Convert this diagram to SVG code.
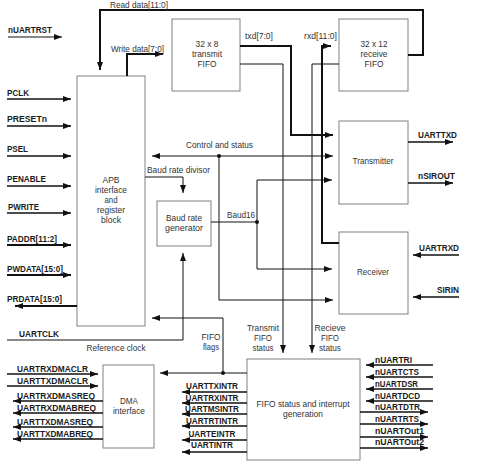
<svg xmlns="http://www.w3.org/2000/svg" width="480" height="463" viewBox="0 0 480 463">
<defs>
<marker id="ah" viewBox="0 0 8 6" refX="8" refY="3" markerWidth="8" markerHeight="6" markerUnits="userSpaceOnUse" orient="auto-start-reverse"><path d="M0,0 L8,3 L0,6 z" fill="#111"/></marker>
</defs>
<style>
.box{fill:#fff;stroke:#808080;stroke-width:1}
.w{fill:none;stroke:#111;stroke-width:1}
.m{fill:none;stroke:#111;stroke-width:1.5}
.b{fill:none;stroke:#111;stroke-width:2}
.a{marker-end:url(#ah)}
.a2{marker-start:url(#ah);marker-end:url(#ah)}
.dot{fill:#111}
.t{font-family:"Liberation Sans",Arial,sans-serif;font-size:9px;fill:#333}
.s{font-family:"Liberation Sans",Arial,sans-serif;font-size:9.5px;font-weight:bold;fill:#1a1a1a}
.c{text-anchor:middle}
</style>
<rect width="480" height="463" fill="#fff"/>

<g id="apb">
<rect class="box" x="77" y="76" width="68" height="250"/>
<text class="t c" x="111" y="183" textLength="17" lengthAdjust="spacingAndGlyphs">APB</text>
<text class="t c" x="111" y="193" textLength="32" lengthAdjust="spacingAndGlyphs">interface</text>
<text class="t c" x="111" y="203" textLength="13" lengthAdjust="spacingAndGlyphs">and</text>
<text class="t c" x="111" y="213" textLength="28" lengthAdjust="spacingAndGlyphs">register</text>
<text class="t c" x="111" y="223" textLength="20" lengthAdjust="spacingAndGlyphs">block</text>
</g>
<g id="txfifo">
<rect class="box" x="172" y="19" width="68" height="72"/>
<text class="t c" x="207" y="47" textLength="23" lengthAdjust="spacingAndGlyphs">32 x 8</text>
<text class="t c" x="207" y="57" textLength="30" lengthAdjust="spacingAndGlyphs">transmit</text>
<text class="t c" x="207" y="67" textLength="19" lengthAdjust="spacingAndGlyphs">FIFO</text>
</g>
<g id="rxfifo">
<rect class="box" x="339" y="19" width="69" height="72"/>
<text class="t c" x="374" y="47" textLength="27" lengthAdjust="spacingAndGlyphs">32 x 12</text>
<text class="t c" x="374" y="57" textLength="27" lengthAdjust="spacingAndGlyphs">receive</text>
<text class="t c" x="374" y="67" textLength="19" lengthAdjust="spacingAndGlyphs">FIFO</text>
</g>
<g id="transmitter">
<rect class="box" x="339" y="121" width="69" height="83"/>
<text class="t c" x="373" y="164" textLength="41" lengthAdjust="spacingAndGlyphs">Transmitter</text>
</g>
<g id="receiver">
<rect class="box" x="339" y="232" width="69" height="82"/>
<text class="t c" x="373" y="275" textLength="32" lengthAdjust="spacingAndGlyphs">Receiver</text>
</g>
<g id="baudgen">
<rect class="box" x="157" y="201" width="54" height="45"/>
<text class="t c" x="184" y="221" textLength="36" lengthAdjust="spacingAndGlyphs">Baud rate</text>
<text class="t c" x="184" y="231" textLength="38" lengthAdjust="spacingAndGlyphs">generator</text>
</g>
<g id="dma">
<rect class="box" x="103" y="365" width="51" height="83"/>
<text class="t c" x="129" y="404" textLength="18" lengthAdjust="spacingAndGlyphs">DMA</text>
<text class="t c" x="129" y="414" textLength="32" lengthAdjust="spacingAndGlyphs">interface</text>
</g>
<g id="fifostatus">
<rect class="box" x="247" y="359" width="113" height="101"/>
<text class="t c" x="303" y="407" textLength="93" lengthAdjust="spacingAndGlyphs">FIFO status and interrupt</text>
<text class="t c" x="303" y="417" textLength="40" lengthAdjust="spacingAndGlyphs">generation</text>
</g>

<g id="connectors">
<!-- internal buses -->
<path class="b a" d="M408,55 H423 V10 H100 V70"/>
<path class="b a" d="M127,76 V54 H163"/>
<path class="b a" d="M240,46 H291 V135 H333"/>
<path class="b a" d="M339,243 H322 V46 H331"/>
<path class="w a" d="M240,64 H283 V353"/>
<path class="w a" d="M339,64 H312 V353"/>
<path class="w a2" d="M152,156 H333"/>
<path class="w a" d="M219,156 V300 H333"/>
<circle class="dot" cx="219" cy="156" r="2"/>
<path class="w a" d="M145,177 H183 V193"/>
<path class="w" d="M211,222 H257"/>
<path class="w a" d="M257,222 V180 H332"/>
<path class="w a" d="M257,222 V269 H332"/>
<circle class="dot" cx="257" cy="222" r="2"/>
<path class="w a" d="M7,340 H183 V253"/>
<path class="w a" d="M247,373 H160"/>
<path class="w a" d="M223,373 V318 H152"/>
<circle class="dot" cx="223" cy="373" r="2"/>

<!-- APB side -->
<path class="w a" d="M8,37 H62"/>
<path class="m a" d="M7,99 H71"/>
<path class="m a" d="M7,126 H71"/>
<path class="m a" d="M7,156 H71"/>
<path class="m a" d="M7,186 H71"/>
<path class="m a" d="M7,213 H71"/>
<path class="b a" d="M7,245 H71"/>
<path class="b a" d="M7,275 H71"/>
<path class="b a" d="M77,306 H15"/>

<!-- UART outputs / inputs -->
<path class="m a" d="M408,142 H453"/>
<path class="m a" d="M408,183 H453"/>
<path class="m a" d="M459,255 H413"/>
<path class="m a" d="M459,297 H413"/>

<!-- DMA -->
<path class="m a" d="M7,374 H98"/>
<path class="m a" d="M7,386 H98"/>
<path class="m a" d="M103,401 H13"/>
<path class="m a" d="M103,413 H13"/>
<path class="m a" d="M103,427 H13"/>
<path class="m a" d="M103,439 H13"/>

<!-- interrupts -->
<path class="m a" d="M247,392 H182"/>
<path class="m a" d="M247,403 H182"/>
<path class="m a" d="M247,414 H182"/>
<path class="m a" d="M247,426 H182"/>
<path class="m a" d="M247,440 H182"/>
<path class="m a" d="M247,452 H182"/>

<!-- modem -->
<path class="m a" d="M433,365 H366"/>
<path class="m a" d="M433,377 H366"/>
<path class="m a" d="M433,389 H366"/>
<path class="m a" d="M433,401 H366"/>
<path class="m a" d="M360,412 H428"/>
<path class="m a" d="M360,424 H428"/>
<path class="m a" d="M360,437 H428"/>
<path class="m a" d="M360,448 H428"/>
</g>

<g id="labels">
<text class="t" x="110" y="7.5" textLength="58" lengthAdjust="spacingAndGlyphs">Read data[11:0]</text>
<text class="t" x="111" y="51.5" textLength="53" lengthAdjust="spacingAndGlyphs">Write data[7:0]</text>
<text class="t" x="245" y="39" textLength="28" lengthAdjust="spacingAndGlyphs">txd[7:0]</text>
<text class="t" x="304" y="39" textLength="33" lengthAdjust="spacingAndGlyphs">rxd[11:0]</text>
<text class="t" x="186" y="148" textLength="67" lengthAdjust="spacingAndGlyphs">Control and status</text>
<text class="t" x="147" y="173" textLength="63" lengthAdjust="spacingAndGlyphs">Baud rate divisor</text>
<text class="t" x="227" y="218" textLength="28" lengthAdjust="spacingAndGlyphs">Baud16</text>
<text class="t c" x="263" y="331" textLength="32" lengthAdjust="spacingAndGlyphs">Transmit</text>
<text class="t c" x="263" y="341" textLength="18" lengthAdjust="spacingAndGlyphs">FIFO</text>
<text class="t c" x="263" y="351" textLength="21" lengthAdjust="spacingAndGlyphs">status</text>
<text class="t c" x="330" y="331" textLength="31" lengthAdjust="spacingAndGlyphs">Recieve</text>
<text class="t c" x="330" y="341" textLength="18" lengthAdjust="spacingAndGlyphs">FIFO</text>
<text class="t c" x="330" y="351" textLength="22" lengthAdjust="spacingAndGlyphs">status</text>
<text class="t c" x="211" y="340" textLength="19" lengthAdjust="spacingAndGlyphs">FIFO</text>
<text class="t c" x="211" y="350" textLength="16" lengthAdjust="spacingAndGlyphs">flags</text>
<text class="t c" x="116" y="351" textLength="59" lengthAdjust="spacingAndGlyphs">Reference clock</text>

<text class="s" x="8" y="33" textLength="44" lengthAdjust="spacingAndGlyphs">nUARTRST</text>
<text class="s" x="7" y="96" textLength="22" lengthAdjust="spacingAndGlyphs">PCLK</text>
<text class="s" x="7" y="122" textLength="40" lengthAdjust="spacingAndGlyphs">PRESETn</text>
<text class="s" x="7" y="152" textLength="21" lengthAdjust="spacingAndGlyphs">PSEL</text>
<text class="s" x="7" y="182" textLength="39" lengthAdjust="spacingAndGlyphs">PENABLE</text>
<text class="s" x="8" y="209.5" textLength="31" lengthAdjust="spacingAndGlyphs">PWRITE</text>
<text class="s" x="7" y="241.5" textLength="50" lengthAdjust="spacingAndGlyphs">PADDR[11:2]</text>
<text class="s" x="7" y="272" textLength="56" lengthAdjust="spacingAndGlyphs">PWDATA[15:0]</text>
<text class="s" x="7" y="302" textLength="55" lengthAdjust="spacingAndGlyphs">PRDATA[15:0]</text>
<text class="s" x="19" y="337" textLength="40" lengthAdjust="spacingAndGlyphs">UARTCLK</text>

<text class="s" x="418" y="138" textLength="39" lengthAdjust="spacingAndGlyphs">UARTTXD</text>
<text class="s" x="418" y="179" textLength="37" lengthAdjust="spacingAndGlyphs">nSIROUT</text>
<text class="s" x="419" y="251" textLength="40" lengthAdjust="spacingAndGlyphs">UARTRXD</text>
<text class="s" x="437" y="293" textLength="22" lengthAdjust="spacingAndGlyphs">SIRIN</text>

<text class="s" x="17" y="371.5" textLength="71" lengthAdjust="spacingAndGlyphs">UARTRXDMACLR</text>
<text class="s" x="17" y="383.5" textLength="71" lengthAdjust="spacingAndGlyphs">UARTTXDMACLR</text>
<text class="s" x="17" y="398.5" textLength="78" lengthAdjust="spacingAndGlyphs">UARTRXDMASREQ</text>
<text class="s" x="17" y="410.5" textLength="79" lengthAdjust="spacingAndGlyphs">UARTRXDMABREQ</text>
<text class="s" x="17" y="424.5" textLength="76" lengthAdjust="spacingAndGlyphs">UARTTXDMASREQ</text>
<text class="s" x="17" y="436.5" textLength="76" lengthAdjust="spacingAndGlyphs">UARTTXDMABREQ</text>

<text class="s c" x="212" y="388.5" textLength="52" lengthAdjust="spacingAndGlyphs">UARTTXINTR</text>
<text class="s c" x="212" y="400.5" textLength="53" lengthAdjust="spacingAndGlyphs">UARTRXINTR</text>
<text class="s c" x="212" y="412" textLength="54" lengthAdjust="spacingAndGlyphs">UARTMSINTR</text>
<text class="s c" x="212" y="424" textLength="52" lengthAdjust="spacingAndGlyphs">UARTRTINTR</text>
<text class="s c" x="212" y="436.5" textLength="47" lengthAdjust="spacingAndGlyphs">UARTEINTR</text>
<text class="s c" x="212" y="448" textLength="42" lengthAdjust="spacingAndGlyphs">UARTINTR</text>

<text class="s" x="375" y="363" textLength="37" lengthAdjust="spacingAndGlyphs">nUARTRI</text>
<text class="s" x="375" y="375" textLength="44" lengthAdjust="spacingAndGlyphs">nUARTCTS</text>
<text class="s" x="375" y="387" textLength="43" lengthAdjust="spacingAndGlyphs">nUARTDSR</text>
<text class="s" x="375" y="399" textLength="45" lengthAdjust="spacingAndGlyphs">nUARTDCD</text>
<text class="s" x="375" y="410" textLength="45" lengthAdjust="spacingAndGlyphs">nUARTDTR</text>
<text class="s" x="375" y="422" textLength="44" lengthAdjust="spacingAndGlyphs">nUARTRTS</text>
<text class="s" x="375" y="434" textLength="49" lengthAdjust="spacingAndGlyphs">nUARTOut1</text>
<text class="s" x="375" y="445" textLength="49" lengthAdjust="spacingAndGlyphs">nUARTOut2</text>
</g>
</svg>
